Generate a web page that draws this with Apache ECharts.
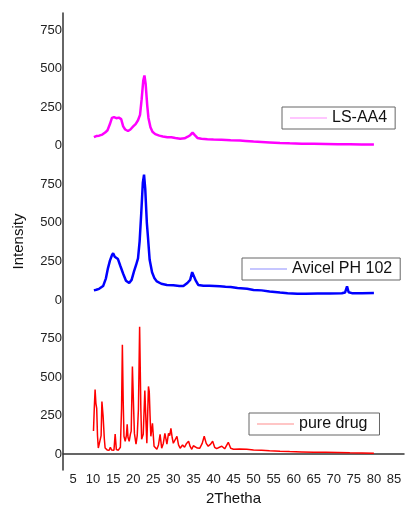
<!DOCTYPE html>
<html><head><meta charset="utf-8">
<script src="https://cdn.jsdelivr.net/npm/echarts@6/dist/echarts.min.js"></script>
<style>html,body{margin:0;padding:0;background:#fff}#c{width:407px;height:511px}</style>
</head><body><div id="c"></div>
<script>
// series names
const seriesNames = ['LS-AA4', 'Avicel PH 102', 'pure drug'];
// [2Theta, intensity]
const lsAA4 = [[10.2,55],[10.8,62],[11.5,65],[12.3,72],[13.0,85],[13.6,100],[14.2,140],[14.7,180],[15.2,185],[15.8,178],[16.4,182],[17.0,172],[17.5,125],[18.0,105],[18.7,95],[19.3,105],[20.0,125],[20.6,140],[21.2,165],[21.7,200],[22.1,300],[22.5,420],[22.8,455],[23.1,400],[23.5,260],[23.8,180],[24.3,120],[24.8,90],[25.5,75],[26.5,65],[27.4,60],[28.5,55],[29.5,55],[30.5,50],[31.7,45],[32.8,48],[33.6,58],[34.2,68],[34.8,85],[35.3,70],[36.0,50],[37.0,45],[38.5,42],[40,40],[42,38],[44.3,35],[46.6,33],[48,31],[50,27],[52,24],[54,21],[56.6,17],[59,15],[62,13],[65,12],[68,11],[71,10],[74,9],[77,8],[80,7]];
const avicel = [[10.2,62],[10.8,66],[11.5,72],[12.5,90],[13.2,140],[13.7,205],[14.2,255],[14.7,290],[15.0,303],[15.4,280],[15.8,285],[16.2,265],[16.8,220],[17.5,170],[18.2,125],[19.0,110],[19.6,130],[20.2,185],[20.7,225],[21.2,270],[21.6,380],[22.0,560],[22.4,760],[22.7,812],[23.0,720],[23.4,500],[23.7,400],[24.1,260],[24.7,180],[25.3,140],[25.9,120],[27,105],[28.4,97],[30,95],[31.5,90],[32.5,90],[33.5,110],[34.2,130],[34.7,180],[35.0,175],[35.6,125],[36.2,97],[37.5,92],[39,92],[41.6,88],[43,85],[44.3,84],[46,78],[48.4,72],[50,65],[52,62],[54,55],[56.6,48],[58.5,44],[60.9,40],[63,40],[66,42],[69,42],[72,43],[72.8,48],[73.3,88],[73.7,50],[74.5,44],[77,44],[80,45]];
const pureDrug = [[10.1,150],[10.3,300],[10.5,419],[10.7,330],[10.9,297],[11.1,120],[11.3,40],[11.7,32],[12.0,120],[12.2,342],[12.5,245],[12.8,100],[13.0,40],[13.5,28],[14.0,26],[14.3,45],[14.6,28],[15.2,26],[15.5,130],[15.8,30],[16.3,26],[16.8,45],[17.1,300],[17.3,710],[17.5,350],[17.7,116],[18.0,84],[18.3,120],[18.5,194],[18.7,110],[19.0,84],[19.3,130],[19.5,150],[19.8,568],[20.1,300],[20.3,135],[20.7,65],[21.0,120],[21.3,290],[21.6,826],[21.9,300],[22.1,97],[22.5,130],[22.9,413],[23.2,200],[23.4,71],[23.6,250],[23.8,439],[24.0,406],[24.2,250],[24.4,116],[24.8,200],[25.2,52],[25.9,32],[26.3,60],[26.7,129],[27.1,39],[27.5,70],[27.9,135],[28.4,65],[28.8,135],[29.1,120],[29.4,168],[29.7,110],[30.0,71],[30.4,80],[30.9,116],[31.3,60],[31.7,39],[32.3,60],[32.8,45],[33.3,70],[33.8,84],[34.2,50],[34.6,32],[35.0,55],[35.4,65],[36.0,40],[36.6,39],[37.2,70],[37.7,116],[38.2,70],[38.7,52],[39.3,65],[39.8,84],[40.3,45],[40.8,36],[41.5,45],[42.1,52],[42.8,35],[43.7,77],[44.3,39],[45,32],[46.5,34],[48.3,32],[50,28],[52,25],[54,22],[56.6,19],[59,17],[62,15],[65,13],[68,12],[71,11],[74,9],[77,8],[80,6]];
// vertical stacking offsets
const offsets = [2000, 1000, 0];
const xTicks = [5,10,15,20,25,30,35,40,45,50,55,60,65,70,75,80,85];
const yTicks = [0,250,500,750,1000,1250,1500,1750,2000,2250,2500,2750];
const colors = ['#ff00ff', '#0000ff', '#ff0000'];

const font = 'Liberation Sans, Arial, sans-serif';
const raw = [lsAA4, avicel, pureDrug];
const widths = [2.5, 2.5, 1.5];

const chart = echarts.init(document.getElementById('c'));
const legendPos = [[282,107],[242,258],[249,413]];
const legendRightPad = [8, 8, 12];
chart.setOption({
  animation: false,
  grid: {left: 63, right: 3, top: 13, bottom: 37},
  xAxis: {
    type: 'value', min: 2.5, max: 87.5,
    name: '2Thetha', nameLocation: 'middle', nameGap: 19,
    nameTextStyle: {fontSize: 15, color: '#111', fontFamily: font},
    axisLine: {lineStyle: {color: '#333', width: 1.5}},
    axisTick: {show: false},
    splitLine: {show: false},
    axisLabel: {customValues: xTicks, fontSize: 13, color: '#222', fontFamily: font, margin: 3}
  },
  yAxis: {
    type: 'value', min: -103, max: 2860,
    name: 'Intensity', nameLocation: 'middle', nameGap: 37,
    nameTextStyle: {fontSize: 15, color: '#111', fontFamily: font},
    axisLine: {show: true, lineStyle: {color: '#333', width: 1.5}},
    axisTick: {show: false},
    splitLine: {show: false},
    axisLabel: {customValues: yTicks, fontSize: 13, color: '#222', fontFamily: font, margin: 1,
      formatter: v => String(v % 1000)}
  },
  legend: seriesNames.map((n, i) => ({
    data: [n], left: legendPos[i][0], top: legendPos[i][1],
    borderColor: '#666', borderWidth: 1, padding: [3, legendRightPad[i], 3, 8],
    icon: 'rect', itemWidth: 37, itemHeight: 1, itemGap: 0,
    itemStyle: {opacity: 0.45},
    textStyle: {fontSize: 16, color: '#111', fontFamily: font, lineHeight: 16}
  })),
  series: seriesNames.map((n, i) => ({
    name: n, type: 'line', symbol: 'none',
    data: raw[i].map(p => [p[0], p[1] + offsets[i]]),
    lineStyle: {color: colors[i], width: widths[i]},
    itemStyle: {color: colors[i]}
  }))
});
</script></body></html>
